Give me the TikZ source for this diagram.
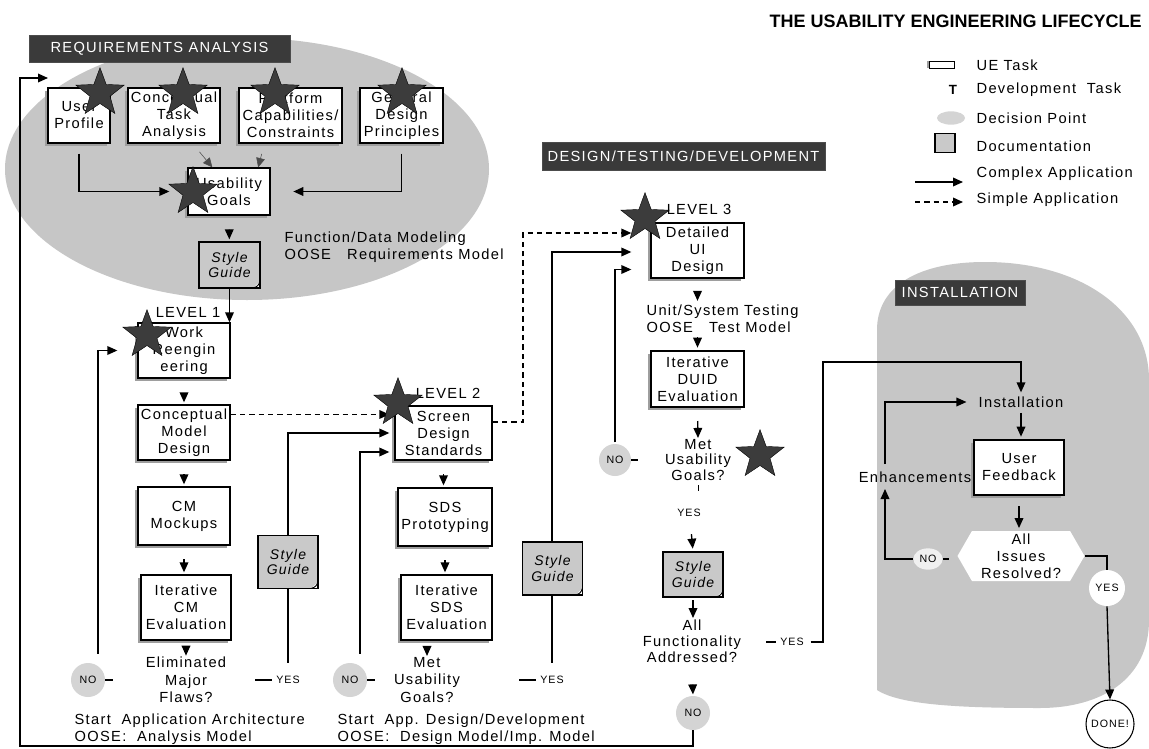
\documentclass[tikz,border=0pt]{standalone}
\usepackage{fontspec}
\setmainfont{Liberation Sans}[LetterSpace=9]
\newfontfamily\titlefont{Liberation Sans}
\usetikzlibrary{arrows.meta,shapes.geometric,shapes.symbols,shadows,calc}
\definecolor{hdr}{HTML}{3A3A3A}
\definecolor{ell}{HTML}{C6C6C6}
\definecolor{dec}{HTML}{D4D4D4}
\definecolor{docg}{HTML}{C9C9C9}
\definecolor{starc}{HTML}{3C3C3C}
\definecolor{shad}{HTML}{9E9E9E}
\tikzset{
 txt/.style={font=\fontsize{11}{12.75}\selectfont, align=center, inner sep=1pt},
 dtxt/.style={txt, font=\fontsize{11}{13}\selectfont},
 task/.style={txt, draw, fill=white, line width=1pt, inner sep=0pt,
   drop shadow={shadow xshift=-2.5pt, shadow yshift=-2pt, fill=shad, opacity=1}},
 hdrbox/.style={fill=hdr, draw=gray!60!black, line width=0.6pt, text=white,
   font=\fontsize{11}{12}\selectfont, inner sep=0pt},
 docbox/.style={draw, line width=1pt, fill=docg, align=center, inner sep=0pt,
   font=\itshape\fontsize{10.5}{11.75}\selectfont,
   path picture={
     \fill[white] ([xshift=-5pt]path picture bounding box.south east) -- (path picture bounding box.south east) -- ([yshift=5pt]path picture bounding box.south east) -- cycle;
     \draw[line width=0.7pt] ([xshift=-5pt]path picture bounding box.south east) .. controls ([xshift=-1.5pt,yshift=1.5pt]path picture bounding box.south east) .. ([yshift=5pt]path picture bounding box.south east);
   }},
 decn/.style={circle, fill=dec, font=\fontsize{8}{9}\selectfont, inner sep=0pt, minimum size=25.5pt},
 small/.style={font=\fontsize{8}{9}\selectfont, inner sep=1pt},
 mystar/.style={star, star points=5, star point ratio=2.4, fill=starc, draw=black, line width=0.3pt, minimum size=38pt, inner sep=0pt},
 ln/.style={line width=1pt},
 arr/.style={ln, -{Triangle[length=7.5pt,width=6.5pt]}},
 darr/.style={arr, dash pattern=on 4pt off 3pt},
}
\begin{document}
\begin{tikzpicture}[x=0.75pt,y=-0.75pt]
\useasboundingbox (0,0) rectangle (1149,749);
\fill[white] (0,0) rectangle (1149,749);
% background regions
\fill[ell] (247,169) ellipse [x radius=181.5pt, y radius=98.25pt];
\fill[ell] (877,690) -- (877,330) .. controls (877,285) and (920,262) .. (985,262)
  .. controls (1080,262) and (1149,310) .. (1149,380) -- (1149,620)
  .. controls (1149,680) and (1100,708) .. (1040,708)
  .. controls (960,708) and (900,705) .. (877,690) -- cycle;

% title and headers
\node[anchor=east, font=\titlefont\bfseries\fontsize{13.5}{15}\selectfont, inner sep=0pt] (title) at (1142,21) {THE USABILITY ENGINEERING LIFECYCLE};
\node[hdrbox, minimum width=195.75pt, minimum height=20.25pt] (hra) at (159.5,48.5) {REQUIREMENTS ANALYSIS};
\node[hdrbox, minimum width=212.25pt, minimum height=21pt] (hdtd) at (683.5,156) {DESIGN/TESTING/DEVELOPMENT};
\node[hdrbox, minimum width=97.5pt, minimum height=18.75pt] (hins) at (960,292.5) {INSTALLATION};

% legend
\node[draw, fill=white, minimum width=18.75pt, minimum height=5.25pt, inner sep=0pt, line width=0.7pt,
  drop shadow={shadow xshift=-2pt, shadow yshift=0pt, fill=shad, opacity=1}] (lg1) at (942,65) {};
\node[txt, anchor=west] (lt1) at (975,65) {UE Task};
\node[font=\bfseries\fontsize{10}{12}\selectfont, inner sep=0pt] (lg2) at (953,90) {T};
\node[txt, anchor=west] (lt2) at (975,90) {Development\ \ Task};
\node[ellipse, fill=dec, minimum width=21pt, minimum height=10pt, inner sep=0pt] (lg3) at (951,118) {};
\node[txt, anchor=west] (lt3) at (975,118) {Decision Point};
\node[draw, fill=docg, minimum width=15pt, minimum height=14pt, inner sep=0pt, line width=0.8pt] (lg4) at (945,143) {};
\node[txt, anchor=west] (lt4) at (975,146) {Documentation};
\coordinate (lg5a) at (915,182); \coordinate (lg5b) at (963,182);
\draw[arr] (lg5a) -- (lg5b);
\node[txt, anchor=west] (lt5) at (975,174) {Complex Application};
\coordinate (lg6a) at (915,202); \coordinate (lg6b) at (963,202);
\draw[darr] (lg6a) -- (lg6b);
\node[txt, anchor=west] (lt6) at (975,200) {Simple Application};

% ---------- requirements analysis
\node[task, minimum width=46.5pt, minimum height=41.25pt] (up) at (79,115.5) {User\\Profile};
\node[task, minimum width=69pt, minimum height=41.25pt] (cta) at (174,115.5) {Conceptual\\Task\\Analysis};
\node[task, minimum width=77.25pt, minimum height=41.25pt] (pcc) at (290.5,115.5) {Platform\\Capabilities/\\Constraints};
\node[task, minimum width=62.25pt, minimum height=41.25pt] (gdp) at (401.5,115.5) {General\\Design\\Principles};
\node[task, minimum width=61.5pt, minimum height=35.25pt] (ug) at (229,191.5) {Usability\\Goals};
\node[docbox, minimum width=45.75pt, minimum height=34.5pt] (sg0) at (229.5,265) {Style\\Guide};

\draw[arr, shorten <=7.5pt, shorten >=13.5pt] (up.south) |- (ug.west);
\draw[arr, shorten <=7.5pt, shorten >=17pt] (gdp.south) |- (ug.east);
\coordinate (ctao) at ($(cta.south)!0.4!(cta.south east)$);
\coordinate (ugi1) at ($(ug.north west)!0.3!(ug.north east)$);
\coordinate (pcco) at ($(pcc.south)!0.5!(pcc.south west)$);
\coordinate (ugi2) at ($(ug.north west)!0.85!(ug.north east)$);
\draw[-{Triangle[length=7pt,width=6.5pt]}, line width=0.4pt, gray!60!black, shorten <=8pt] (ctao) -- (ugi1);
\draw[-{Triangle[length=7pt,width=6.5pt]}, line width=0.4pt, gray!60!black, shorten <=8pt] (pcco) -- (ugi2);
\draw[arr, shorten <=11pt, shorten >=1.5pt] (ug) -- (sg0);

\node[txt, anchor=west, align=left] (fdm) at (283,247) {Function/Data Modeling\\OOSE\ \ \ Requirements Model};

% ---------- level 1
\node[txt] (lv1) at (188,312) {LEVEL 1};
\node[task, minimum width=69pt, minimum height=41.25pt] (wr) at (184,350.5) {Work\\Reengin\\eering};
\node[task, minimum width=69pt, minimum height=41.25pt] (cmd) at (184,432.5) {Conceptual\\Model\\Design};
\node[task, minimum width=69pt, minimum height=43.5pt] (cmm) at (184,516) {CM\\Mockups};
\node[task, minimum width=67.5pt, minimum height=48.75pt] (icm) at (186,607.5) {Iterative\\CM\\Evaluation};
\node[dtxt] (elim) at (186,680) {Eliminated\\Major\\Flaws?};
\node[decn] (no1) at (88,680) {NO};
\node[small] (yes1) at (288,680) {YES};
\node[txt, anchor=west, align=left] (st1) at (73,729) {Start\ \ Application Architecture\\OOSE:\ \ Analysis Model};

\draw[arr] (sg0.south) -- (sg0.south |- wr.north);
\draw[arr, shorten <=11pt, shorten >=1.5pt] (wr) -- (cmd);
\draw[arr, shorten <=10pt, shorten >=1.5pt] (cmd) -- (cmm);
\draw[arr, shorten <=10pt, shorten >=1.5pt] (cmm.south) -- (cmm.south |- icm.north);
\draw[arr, shorten <=7pt, shorten >=0pt] (icm.south) -- (icm.south |- elim.north);
\draw[ln] (no1.east) -- ++(8,0);
\draw[ln] (yes1.west) ++(-3,0) -- ++(-17,0);
\draw[arr, shorten <=9pt, shorten >=15pt] (no1.55) |- (wr.west);

% ---------- level 2
\node[txt] (lv2) at (448,393) {LEVEL 2};
\node[task, minimum width=72.75pt, minimum height=40.5pt] (sds) at (443.5,433) {Screen\\Design\\Standards};
\node[task, minimum width=70.5pt, minimum height=43.5pt] (sdsp) at (445,517) {SDS\\Prototyping};
\node[task, minimum width=68.25pt, minimum height=48.75pt] (isds) at (446.5,607.5) {Iterative\\SDS\\Evaluation};
\node[dtxt] (met2) at (427,680) {Met\\Usability\\Goals?};
\node[decn] (no2) at (350,680) {NO};
\node[small] (yes2) at (552,680) {YES};
\node[txt, anchor=west, align=left] (st2) at (336,729) {Start\ \ App. Design/Development\\OOSE:\ \ Design Model/Imp. Model};

\draw[arr, shorten <=9pt, shorten >=3.75pt] (yes1.north) |- (sds.west);
\node[docbox, minimum width=45pt, minimum height=39.75pt] (sg1) at (288,562) {Style\\Guide};
\coordinate (sdsin) at ($(sds.west)+(0,19)$);
\draw[arr, shorten <=9pt, shorten >=3.75pt] (no2.55) |- (sdsin);
\coordinate (cmdo) at ($(cmd.north east)!0.18!(cmd.south east)$);
\draw[darr, shorten >=3.75pt] (cmdo) -- (sds.west |- cmdo);
\draw[arr, shorten <=10pt, shorten >=1.5pt] (sds.south) -- (sds.south |- sdsp.north);
\draw[arr, shorten <=10pt, shorten >=1.5pt] (sdsp.south) -- (sdsp.south |- isds.north);
\draw[arr, shorten <=7pt, shorten >=0pt] (met2.north |- isds.south) -- (met2.north);
\draw[ln] (no2.east) -- ++(8,0);
\draw[ln] (yes2.west) ++(-3,0) -- ++(-17,0);

% ---------- level 3
\node[txt] (lv3) at (699,209) {LEVEL 3};
\node[task, minimum width=69.75pt, minimum height=41.25pt] (dui) at (697.5,250.5) {Detailed\\UI\\Design};
\node[txt, anchor=west, align=left] (ust) at (645,319) {Unit/System Testing\\OOSE\ \ \ Test Model};
\node[task, minimum width=69.75pt, minimum height=42pt] (idu) at (697.5,379) {Iterative\\DUID\\Evaluation};
\node[txt, font=\fontsize{11}{11.5}\selectfont] (met3) at (698,460) {Met\\Usability\\Goals?};
\node[decn, minimum size=24pt] (no3) at (615,460) {NO};
\coordinate (tk1) at (698,485); \coordinate (tk2) at (698,491);
\draw[line width=0.6pt] (tk1) -- (tk2);
\node[small] (yes3a) at (689,513) {YES};
\node[docbox, minimum width=45pt, minimum height=33.75pt] (sg3) at (693,574.5) {Style\\Guide};
\node[txt, font=\fontsize{11}{12}\selectfont] (allf) at (692,641) {All\\Functionality\\Addressed?};
\node[small] (yes3b) at (792,642) {YES};
\node[decn] (no5) at (693,713) {NO};

\coordinate (duiin1) at ($(dui.west)+(0,-17.5)$);
\coordinate (dbend) at (523,0 |- duiin1);
\coordinate (sdso) at ($(sds.north east)!0.3!(sds.south east)$);
\draw[darr, shorten >=14.25pt] (sdso) -| (dbend) -- (duiin1);
\coordinate (duiin2) at ($(dui.west)+(0,1.5)$);
\coordinate (duiin3) at ($(dui.west)+(0,19)$);
\draw[arr, shorten <=9pt, shorten >=14.25pt] (yes2.north) |- (duiin2);
\node[docbox, minimum width=45pt, minimum height=39.75pt] (sg2) at (552.5,568.5) {Style\\Guide};
\draw[arr, shorten <=1pt, shorten >=14.25pt] (no3.north) |- (duiin3);

\draw[arr, shorten <=11pt, shorten >=2pt] (dui.south) -- (dui.south |- ust.north);
\draw[arr, shorten <=2pt, shorten >=2pt] (idu.north |- ust.south) -- (idu.north);
\draw[arr, shorten <=10pt, shorten >=0pt] (idu.south) -- (met3.north);
\draw[ln] (no3.east) -- ++(7,0);
\draw[arr, shorten <=20pt, shorten >=2pt] (yes3a.north) -- (sg3.north);
\draw[arr, shorten <=2pt, shorten >=0pt] (sg3.south) -- (sg3.south |- allf.north);
\draw[arr, shorten <=16pt, shorten >=1pt] (allf.south) -- (no5.north);
\draw[ln] (yes3b.west) ++(-3,0) -- ++(-10,0);

% outer loop back to requirements analysis
\coordinate (lb) at (20,746);
\coordinate (lt) at (20,78);
\coordinate (le) at (48,78);
\draw[arr] (no5.south) |- (lb) -- (lt) -- (le);

% ---------- installation
\node[txt] (instt) at (1021,402) {Installation};
\node[task, minimum width=67.5pt, minimum height=41.25pt] (ufb) at (1019,467.5) {User\\Feedback};
\node[txt] (enh) at (915,477) {Enhancements};
\node[signal, signal to=east and west, signal pointer angle=120, fill=white, minimum width=95.25pt, minimum height=37.5pt, inner sep=0pt, txt, font=\fontsize{11}{12.75}\selectfont] (hex) at (1021,556) {All\\Issues\\Resolved?};
\node[ellipse, fill=gray!12, small, minimum width=22pt, minimum height=16pt] (no4) at (928,559) {NO};
\node[circle, fill=white, small, minimum size=27pt, inner sep=0pt] (yes4) at (1107,588) {YES};
\node[circle, draw, line width=0.8pt, fill=white, small, minimum size=36pt, inner sep=0pt] (done) at (1110,724) {DONE!};

\coordinate (ybend) at (823,362);
\draw[arr, shorten <=4pt, shorten >=2pt] (yes3b.east) -| (ybend) -| (instt.north);
\draw[arr, shorten <=3pt, shorten >=2pt] (instt.south) -- (instt.south |- ufb.north);
\draw[arr, shorten <=8pt, shorten >=2pt] (ufb.south) -- (ufb.south |- hex.north);
\coordinate (enhin) at (885,489);
\coordinate (enhout) at (885,464);
\draw[arr] (no4.west) -| (enhin);
\draw[arr, shorten >=8pt] (enhout) |- (instt.west);
\draw[ln] (no4.east) -- ++(6,0);
\draw[ln] (hex.east) -| (yes4.north);
\draw[arr] (yes4.south) -- (done.north);

% ---------- stars
\node[mystar] (s1) at (100,93) {};
\node[mystar] (s2) at (183,93) {};
\node[mystar] (s3) at (275,93) {};
\node[mystar] (s4) at (402,93) {};
\node[mystar] (s5) at (193,192) {};
\node[mystar] (s6) at (147,335) {};
\node[mystar] (s7) at (398,403) {};
\node[mystar] (s8) at (645,218) {};
\node[mystar] (s9) at (760,455) {};
\end{tikzpicture}
\end{document}
